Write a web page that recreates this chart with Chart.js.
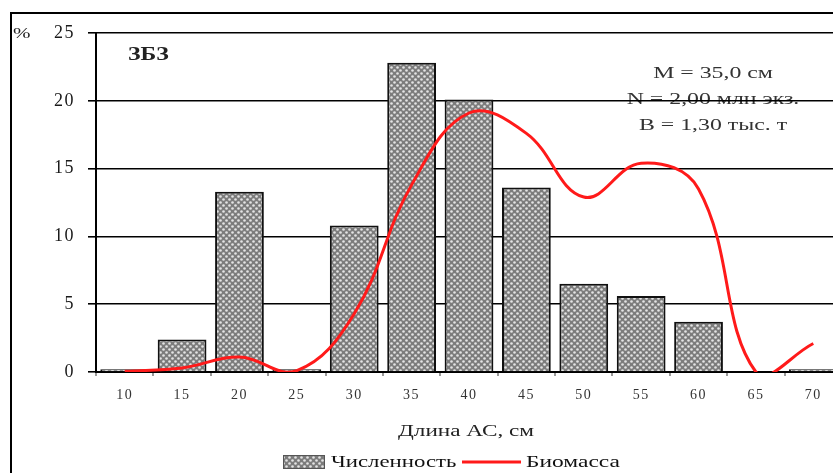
<!DOCTYPE html>
<html>
<head>
<meta charset="utf-8">
<script src="https://cdn.jsdelivr.net/npm/chart.js"></script>
<style>
  html, body { margin: 0; padding: 0; background: #fff; overflow: hidden; }
  #frame { position: absolute; left: 10px; top: 12px; width: 900px; height: 500px;
           border-top: 2px solid #000; border-left: 2px solid #000; }
  #chart { position: absolute; left: 0; top: 0; }
</style>
</head>
<body>
<div id="frame"></div>
<canvas id="chart" width="870" height="473"></canvas>
<script>
// length classes, cm
const lengths = ['10', '15', '20', '25', '30', '35', '40', '45', '50', '55', '60', '65', '70']
// share by number, %
const abundance = [0.2, 2.4, 13.3, 0.2, 10.8, 22.8, 20.1, 13.6, 6.5, 5.6, 3.7, 0, 0.2]
// share by biomass, %
const biomass = [0.05, 0.3, 1.1, 0.1, 4.3, 13.8, 19.1, 17.6, 12.9, 15.4, 13.5, 0, 2.1]
const yTicks = [0, 5, 10, 15, 20, 25]
const notes = ['M = 35,0 см', 'N = 2,00 млн экз.', 'B = 1,30 тыс. т']

const serif = "'Liberation Serif', 'Times New Roman', serif"
const tickSpacing = '1.5px'

// dotted grey fill like the original bars
function makePattern() {
    let c = document.createElement('canvas')
    c.width = 6; c.height = 6
    let g = c.getContext('2d')
    g.fillStyle = '#7c7c7c'
    g.fillRect(0, 0, 6, 6)
    g.fillStyle = '#e4e4e4'
    ;[[1.5, 1.5], [4.5, 4.5]].forEach(p => {
        g.beginPath()
        g.arc(p[0], p[1], 1.3, 0, Math.PI * 2)
        g.fill()
    })
    return document.getElementById('chart').getContext('2d').createPattern(c, 'repeat')
}
const pattern = makePattern()

// the scanned original has wide letters, so text is stretched sideways
function wideText(ctx, txt, x, y, sx, align) {
    ctx.save()
    ctx.translate(x, y)
    ctx.scale(sx, 1)
    ctx.textAlign = align || 'left'
    ctx.fillText(txt, 0, 0)
    ctx.restore()
}

const textPlugin = {
    id: 'texts',
    beforeLayout(chart) {
        chart.ctx.letterSpacing = tickSpacing
    },
    beforeDraw(chart) {
        const ctx = chart.ctx
        ctx.letterSpacing = '0px'
        ctx.save()
        ctx.fillStyle = '#222'
        ctx.textBaseline = 'middle'
        ctx.font = 'bold 18px ' + serif
        wideText(ctx, 'ЗБЗ', 128, 55, 1.32)
        ctx.font = '15px ' + serif
        wideText(ctx, '%', 13, 34, 1.4)
        ctx.fillStyle = '#333'
        ctx.font = '17px ' + serif
        notes.forEach((t, i) => wideText(ctx, t, 713, 74 + i * 26, 1.4, 'center'))
        ctx.restore()
        // tick labels are drawn by the scales after this
        ctx.letterSpacing = tickSpacing
    },
    afterDraw(chart) {
        const ctx = chart.ctx
        ctx.letterSpacing = '0px'
        ctx.save()
        ctx.textBaseline = 'middle'
        ctx.fillStyle = '#222'
        ctx.font = '16px ' + serif
        wideText(ctx, 'Длина АС, см', 466, 432, 1.45, 'center')
        // legend
        ctx.fillStyle = pattern
        ctx.fillRect(283, 455, 42, 14)
        ctx.strokeStyle = '#555'
        ctx.lineWidth = 1
        ctx.strokeRect(283.5, 455.5, 41, 13)
        ctx.fillStyle = '#111'
        ctx.font = '17px ' + serif
        wideText(ctx, 'Численность', 331, 463, 1.34)
        ctx.strokeStyle = '#ff1a1a'
        ctx.lineWidth = 3
        ctx.beginPath()
        ctx.moveTo(462, 462)
        ctx.lineTo(521, 462)
        ctx.stroke()
        wideText(ctx, 'Биомасса', 526, 463, 1.38)
        ctx.restore()
    }
}

new Chart(document.getElementById('chart'), {
    type: 'bar',
    data: {
        labels: lengths,
        datasets: [
            {
                type: 'line',
                label: 'Биомасса',
                data: biomass,
                borderColor: '#ff1a1a',
                borderWidth: 3,
                tension: 0.4,
                capBezierPoints: false,
                pointRadius: 0,
                fill: false,
                order: 0
            },
            {
                label: 'Численность',
                data: abundance,
                backgroundColor: pattern,
                borderColor: '#111',
                borderWidth: 2,
                barPercentage: 0.85,
                categoryPercentage: 1.0,
                order: 1
            }
        ]
    },
    options: {
        responsive: false,
        animation: false,
        devicePixelRatio: 1,
        layout: { padding: { left: 0, right: 28, top: 33, bottom: 0 } },
        plugins: {
            legend: { display: false },
            tooltip: { enabled: false }
        },
        scales: {
            x: {
                afterFit: s => { s.height = 101 },
                grid: { drawOnChartArea: false, tickLength: 4, color: '#999', lineWidth: 2 },
                border: { color: '#000', width: 2 },
                ticks: { font: { family: serif, size: 14 }, color: '#333', padding: 11 }
            },
            y: {
                min: 0,
                max: 25,
                afterFit: s => { s.width = 96 },
                afterBuildTicks: s => { s.ticks = yTicks.map(v => ({ value: v })) },
                grid: { color: '#000', lineWidth: 1.6, tickLength: 8 },
                border: { color: '#000', width: 2 },
                ticks: { font: { family: serif, size: 18 }, color: '#1a1a1a', padding: 13 }
            }
        }
    },
    plugins: [textPlugin]
})
</script>
</body>
</html>
